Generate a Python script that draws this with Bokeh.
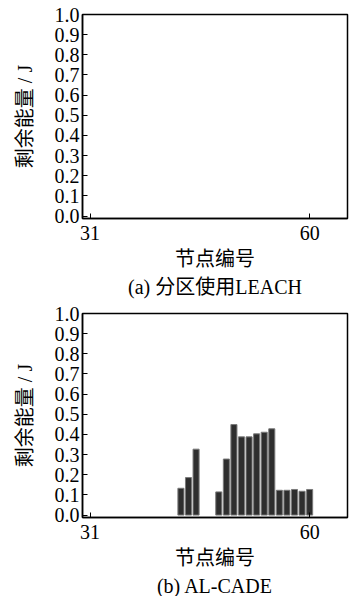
from bokeh.plotting import figure
from bokeh.layouts import column
from bokeh.models import Range1d, FixedTicker, Title, ColumnDataSource, PrintfTickFormatter
from bokeh.embed import file_html
from bokeh.resources import INLINE

# ---- data ----
x_ticks = [31, 60]
y_ticks = [0.0, 0.1, 0.2, 0.3, 0.4, 0.5, 0.6, 0.7, 0.8, 0.9, 1.0]
y_label = "剩余能量 / J"
x_label = "节点编号"

leach_nodes = []
leach_energy = []

alcade_nodes = [43, 44, 45, 48, 49, 50, 51, 52, 53, 54, 55, 56, 57, 58, 59, 60]
alcade_energy = [0.133, 0.186, 0.327, 0.115, 0.278, 0.449, 0.388, 0.388,
                 0.403, 0.411, 0.428, 0.123, 0.123, 0.127, 0.118, 0.127]

captions = ["(a) 分区使用LEACH", "(b) AL-CADE"]

FONT = "'Liberation Serif', 'Noto Sans CJK SC'"


def make_panel(nodes, energy, caption, frame_w, frame_h, top_border, bottom_border,
               left_border, right_border, tick_standoff):
    p = figure(frame_width=frame_w, frame_height=frame_h, output_backend="svg", toolbar_location=None,
               x_range=Range1d(30, 65), y_range=Range1d(-0.012, 1.0),
               min_border_left=left_border, min_border_right=right_border,
               min_border_top=top_border, min_border_bottom=bottom_border)
    p.grid.visible = False
    p.outline_line_color = "black"
    p.outline_line_width = 1.5
    p.background_fill_color = "white"
    p.border_fill_color = "white"

    src = ColumnDataSource(data=dict(x=nodes, top=energy))
    p.vbar(x="x", top="top", bottom=0, width=0.8, source=src,
           fill_color="#2e2e2e", line_color="#7a7a7a", line_width=1)

    for ax in (p.xaxis[0], p.yaxis[0]):
        ax.axis_line_color = "black"
        ax.axis_line_width = 1.5
        ax.major_tick_line_color = "black"
        ax.major_tick_line_width = 1
        ax.major_tick_in = 5
        ax.major_tick_out = 0
        ax.minor_tick_line_color = None
        ax.major_label_text_font = FONT
        ax.major_label_text_font_size = "20px"
        ax.major_label_text_color = "black"
        ax.axis_label_text_font = FONT
        ax.axis_label_text_font_style = "normal"
        ax.axis_label_text_font_size = "20px"
        ax.axis_label_text_color = "black"

    p.xaxis.ticker = FixedTicker(ticks=x_ticks)
    p.yaxis.ticker = FixedTicker(ticks=y_ticks)
    p.yaxis.formatter = PrintfTickFormatter(format="%.1f")
    p.xaxis.major_label_standoff = tick_standoff
    p.yaxis.major_label_standoff = 3
    p.xaxis.axis_label = x_label
    p.yaxis.axis_label = y_label
    p.xaxis.axis_label_standoff = 5
    p.yaxis.axis_label_standoff = 16

    t = Title(text=caption, align="center", text_font=FONT, text_font_size="20px",
              text_font_style="normal", text_color="black", offset=0, standoff=3)
    p.add_layout(t, "below")
    return p


p1 = make_panel(leach_nodes, leach_energy, captions[0], 265, 204, 14, 85, 82, 2, 7)
p2 = make_panel(alcade_nodes, alcade_energy, captions[1], 265, 204, 10, 79, 80, 4, 7)

layout = column(p1, p2, spacing=0)
open("out.html", "w").write(file_html(layout, INLINE))
